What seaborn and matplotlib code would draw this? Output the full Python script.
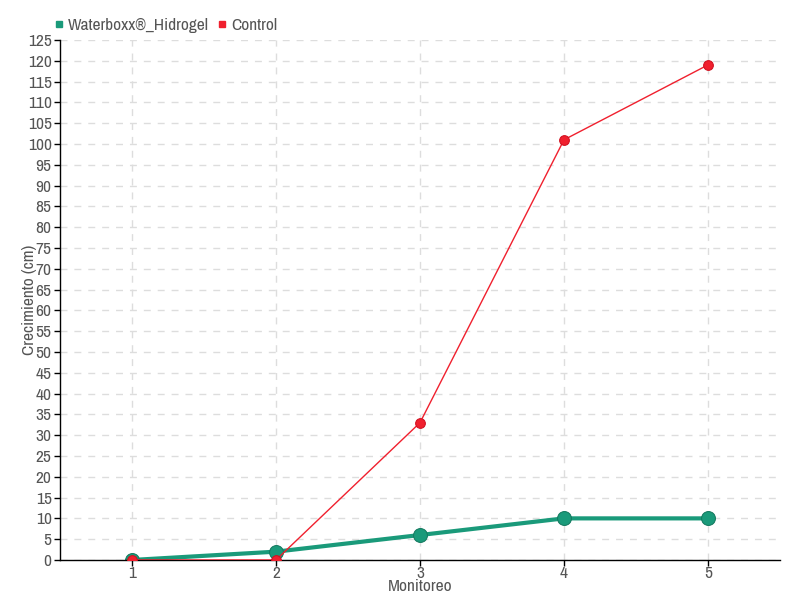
import pandas as pd
import matplotlib.pyplot as plt
import seaborn as sns
from matplotlib.lines import Line2D
from matplotlib import font_manager

# Data
monitoreo = [1, 2, 3, 4, 5]
waterboxx = [0, 2, 6, 10, 10]
control = [0, 0, 33, 101, 119]

df = pd.DataFrame({
    'Monitoreo': monitoreo * 2,
    'Crecimiento': waterboxx + control,
    'Serie': ['Waterboxx®_Hidrogel'] * 5 + ['Control'] * 5,
})

sns.set_style('white')
names = sorted(set(f.name for f in font_manager.fontManager.ttflist))
narrow = [n for n in names if 'Narrow' in n or 'Condensed' in n]
plt.rcParams['font.family'] = narrow[:1] + ['DejaVu Sans']
plt.rcParams['font.stretch'] = 'condensed'
text_color = '#555555'

fig = plt.figure(figsize=(8, 6), dpi=100)
ax = fig.add_axes([0.075, 0.0667, 0.9, 0.8667])

green = '#1a9a7a'
red = '#f0202e'

sns.lineplot(data=df[df['Serie'] == 'Waterboxx®_Hidrogel'], x='Monitoreo', y='Crecimiento',
             color=green, linewidth=3, marker='o', markersize=10,
             markeredgecolor='#157a60', ax=ax, zorder=2)
sns.lineplot(data=df[df['Serie'] == 'Control'], x='Monitoreo', y='Crecimiento',
             color=red, linewidth=1, marker='o', markersize=7,
             markeredgecolor='#d01020', ax=ax, zorder=3)

ax.set_xlim(0.5, 5.5)
ax.set_ylim(0, 125)
ax.set_xticks(monitoreo)
ax.set_yticks(range(0, 126, 5))
ax.grid(True, linestyle=(0, (5, 5)), color='#dddddd', linewidth=1)
ax.set_axisbelow(True)

for s in ['top', 'right']:
    ax.spines[s].set_visible(False)
for s in ['left', 'bottom']:
    ax.spines[s].set_color('black')
    ax.spines[s].set_linewidth(1)

ax.tick_params(axis='both', colors='black', labelcolor=text_color, labelsize=12.5,
               length=4, width=1, direction='out', left=True, bottom=True, pad=2)
ax.tick_params(axis='x', pad=0)

ax.set_xlabel('Monitoreo', color=text_color, fontsize=12.5, labelpad=-1)
ax.set_ylabel('Crecimiento (cm)', color=text_color, fontsize=12.5)
ax.yaxis.set_label_coords(-0.032, 0.5)

handles = [
    Line2D([], [], marker='s', linestyle='', color=green, markersize=5),
    Line2D([], [], marker='s', linestyle='', color=red, markersize=5),
]
leg = fig.legend(handles, ['Waterboxx®_Hidrogel', 'Control'], loc='upper left',
                 bbox_to_anchor=(0.043, 0.997), ncol=2, frameon=False,
                 handletextpad=0.0, columnspacing=0.3, fontsize=12.5, handlelength=1)
for t in leg.get_texts():
    t.set_color(text_color)

fig.savefig('out.png', dpi=100)
